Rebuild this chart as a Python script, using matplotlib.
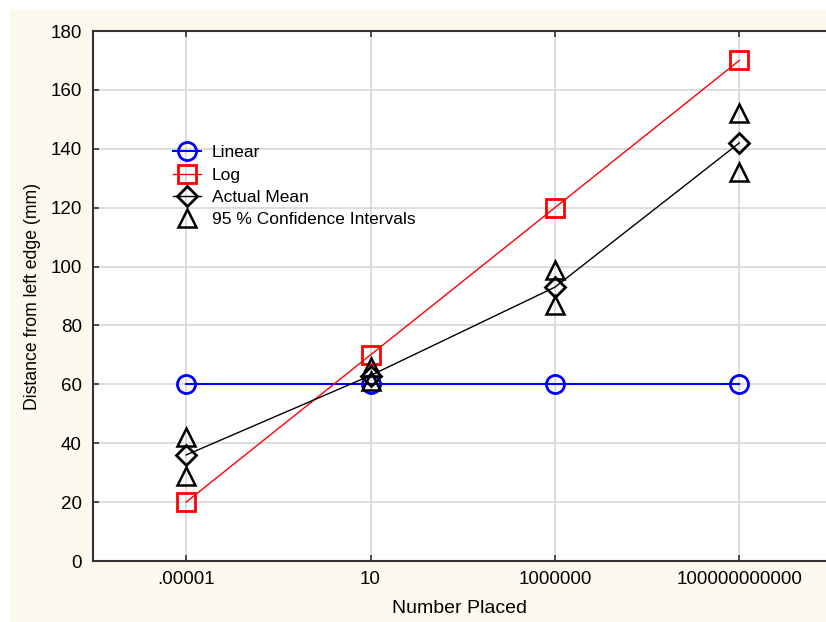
import matplotlib
matplotlib.use('Agg')
from matplotlib import pyplot as plt
from matplotlib.patches import Rectangle
import numpy as np

plt.rcParams['font.family'] = ['Liberation Sans', 'DejaVu Sans']

# Data
categories = ['.00001', '10', '1000000', '100000000000']
linear = [60, 60, 60, 60]
log_vals = [20, 70, 120, 170]
actual_mean = [36, 63, 93, 142]
ci_upper = [42, 66, 99, 152]
ci_lower = [29, 61, 87, 132]

fig = plt.figure(figsize=(8.26, 6.22), dpi=100, facecolor='white')
# cream background panel, behind the axes
bg = Rectangle((10 / 826, 0), 1, 612 / 622, transform=fig.transFigure,
               facecolor='#fdf9ef', edgecolor='none', zorder=-10)
fig.add_artist(bg)
ax = fig.add_axes([93 / 826, 61 / 622, 733 / 826, 530 / 622])
ax.set_facecolor('white')

x = np.arange(len(categories))

ax.plot(x, linear, color='#0000ff', lw=1.5, marker='o', ms=13, mfc='none',
        mew=2, label='Linear', zorder=3)
ax.plot(x, log_vals, color='#ff0000', lw=1.0, marker='s', ms=13, mfc='none',
        mew=2, label='Log', zorder=3)
ax.plot(x, actual_mean, color='black', lw=1.0, marker='D', ms=10, mfc='none',
        mew=2, label='Actual Mean', zorder=4)
ax.plot(x, ci_upper, ls='none', color='black', marker='^', ms=13, mfc='none',
        mew=1.8, label='95 % Confidence Intervals', zorder=4)
ax.plot(x, ci_lower, ls='none', color='black', marker='^', ms=13, mfc='none',
        mew=1.8, zorder=4)

ax.set_xlim(-0.505, 3.47)
ax.set_ylim(0, 180)
ax.set_xticks(x)
ax.set_xticklabels(categories)
ax.set_yticks(np.arange(0, 181, 20))
ax.grid(True, color='#dadada', lw=1.3)
ax.set_axisbelow(True)

ax.tick_params(axis='both', labelsize=13.5, direction='in', length=4, width=1.2,
               colors='#333333', labelcolor='black')
ax.tick_params(axis='x', top=True, pad=7)
ax.tick_params(axis='y', pad=8)
ax.spines['right'].set_visible(False)
for s in ['left', 'top', 'bottom']:
    ax.spines[s].set_color('#333333')
    ax.spines[s].set_linewidth(1.5)

ax.set_xlabel('Number Placed', fontsize=14, labelpad=9)
ax.set_ylabel('Distance from left edge (mm)', fontsize=12.7, labelpad=7)

ax.legend(loc='upper left', bbox_to_anchor=(0.0996, 0.798), frameon=False,
          fontsize=12.5, handlelength=1.6, handletextpad=0.64, labelspacing=0.42,
          borderaxespad=0)

fig.savefig('out.png', dpi=100, facecolor=fig.get_facecolor())
